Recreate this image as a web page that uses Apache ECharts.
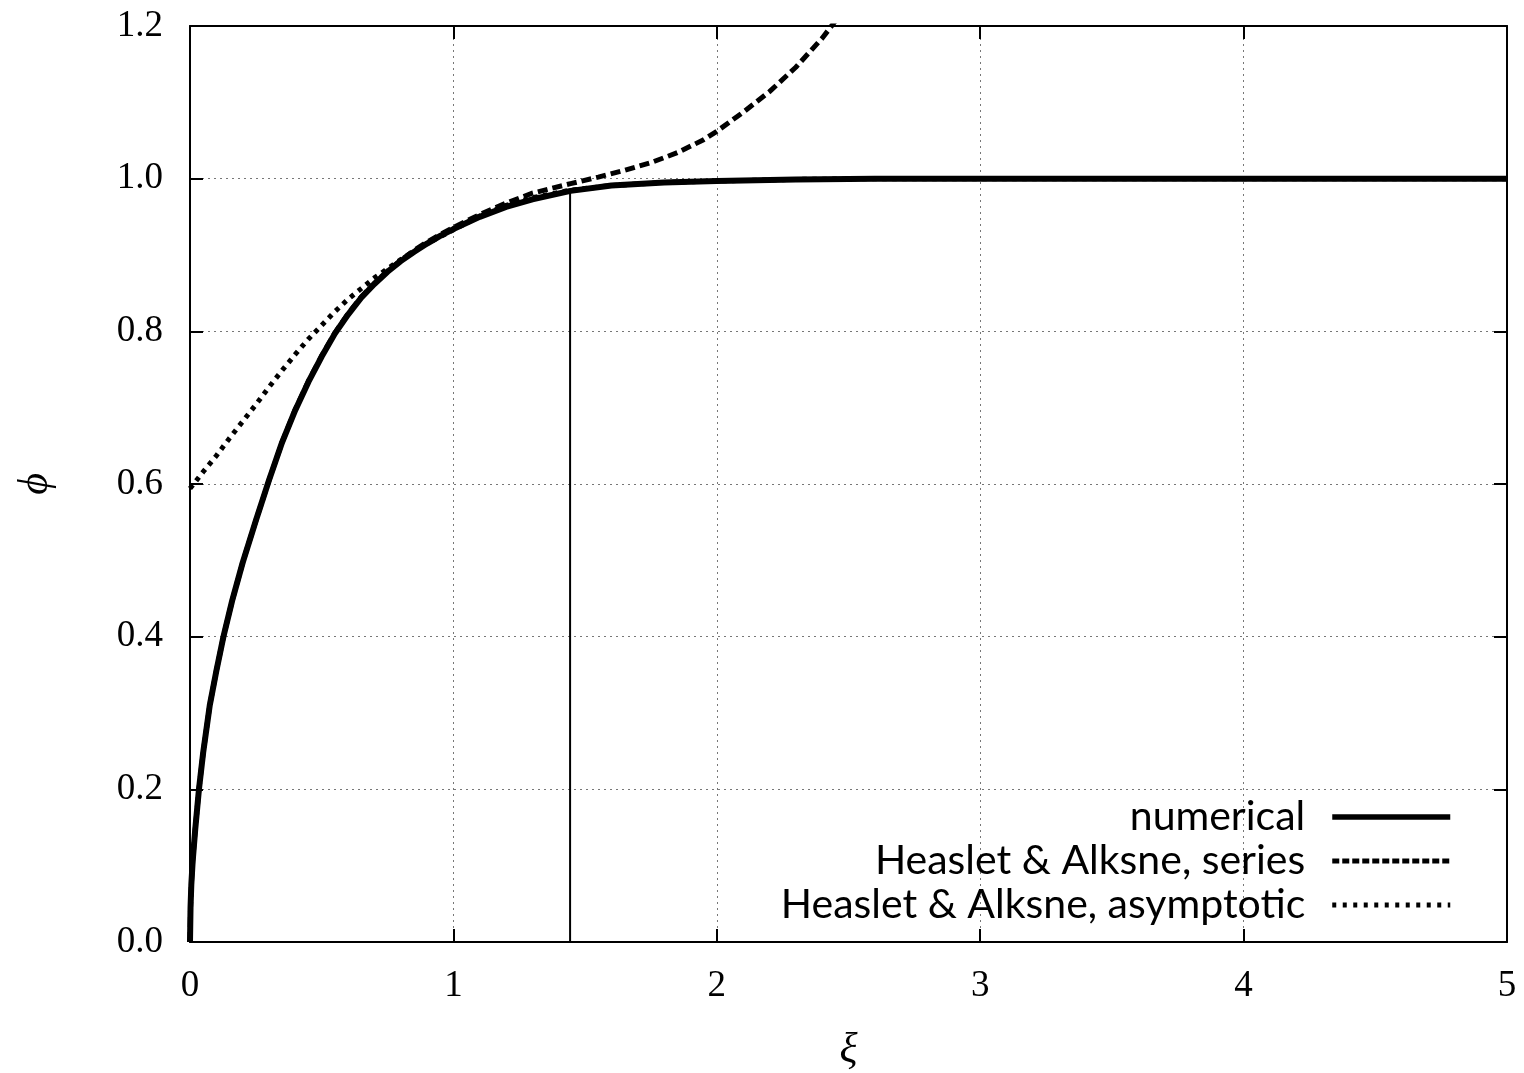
<!DOCTYPE html>
<html>
<head>
<meta charset="utf-8">
<script src="https://cdn.jsdelivr.net/npm/echarts@6/dist/echarts.min.js"></script>
<style>
html,body{margin:0;padding:0;background:#fff;}
#chart{width:1524px;height:1073px;}
</style>
</head>
<body>
<div id="chart"></div>
<script>
// ---- data ----
const seriesNames = ['numerical', 'Heaslet & Alksne, series', 'Heaslet & Alksne, asymptotic'];

const xiNumerical  = [0, 0.002, 0.005, 0.01, 0.02, 0.034, 0.05, 0.075, 0.1, 0.127, 0.16, 0.2, 0.25, 0.3, 0.35, 0.4, 0.45, 0.5, 0.55, 0.6, 0.65, 0.7, 0.75, 0.8, 0.85, 0.9, 0.95, 1.0, 1.1, 1.2, 1.3, 1.445, 1.6, 1.8, 2.0, 2.3, 2.6, 3, 4, 5];
const phiNumerical = [0, 0.045, 0.075, 0.105, 0.148, 0.2, 0.248, 0.31, 0.355, 0.4, 0.447, 0.497, 0.552, 0.605, 0.655, 0.697, 0.734, 0.767, 0.797, 0.822, 0.844, 0.862, 0.878, 0.892, 0.904, 0.915, 0.925, 0.934, 0.950, 0.963, 0.973, 0.984, 0.991, 0.995, 0.997, 0.999, 1, 1, 1, 1];

const xiSeries  = [0, 0.002, 0.005, 0.01, 0.02, 0.034, 0.05, 0.075, 0.1, 0.127, 0.16, 0.2, 0.25, 0.3, 0.35, 0.4, 0.45, 0.5, 0.55, 0.6, 0.65, 0.7, 0.75, 0.8, 0.85, 0.9, 0.95, 1.0, 1.1, 1.2, 1.3, 1.445, 1.55, 1.65, 1.75, 1.85, 1.95, 2.0, 2.1, 2.2, 2.3, 2.4, 2.5];
const phiSeries = [0, 0.045, 0.075, 0.105, 0.148, 0.2, 0.248, 0.31, 0.355, 0.4, 0.447, 0.497, 0.552, 0.605, 0.655, 0.698, 0.735, 0.768, 0.798, 0.823, 0.845, 0.863, 0.879, 0.893, 0.906, 0.917, 0.927, 0.936, 0.953, 0.968, 0.981, 0.9935, 1.002, 1.011, 1.021, 1.034, 1.051, 1.062, 1.087, 1.114, 1.146, 1.184, 1.229];

const xiAsymptotic  = [0, 0.05, 0.1, 0.15, 0.2, 0.25, 0.3, 0.35, 0.4, 0.45, 0.5, 0.55, 0.6, 0.65, 0.7, 0.75, 0.8, 0.85, 0.9, 0.95, 1.0, 1.1, 1.2, 1.3, 1.445, 1.6, 1.8, 2.0, 2.3, 2.6, 3, 4, 5];
const phiAsymptotic = [0.594, 0.616, 0.637, 0.66, 0.682, 0.704, 0.727, 0.749, 0.77, 0.79, 0.808, 0.826, 0.842, 0.856, 0.87, 0.882, 0.894, 0.905, 0.915, 0.924, 0.933, 0.951, 0.965, 0.975, 0.985, 0.991, 0.995, 0.997, 0.999, 1, 1, 1, 1];

const markerXi  = [1.443, 1.443];
const markerPhi = [0, 0.984];

const xTicks = [0, 1, 2, 3, 4, 5];
const yTicks = [0, 0.2, 0.4, 0.6, 0.8, 1.0, 1.2];
// --------------------------------------

const zip = (xs, ys) => xs.map((x, i) => [x, ys[i]]);

const serifFont = '"Liberation Serif", "DejaVu Serif", serif';
const sansFont = 'Lato, "Open Sans", sans-serif';

const chart = echarts.init(document.getElementById('chart'), null, {renderer: 'canvas'});

const gridLine = {show: true, lineStyle: {color: '#777', width: 1, type: [2, 4]}};
const tickStyle = {show: true, inside: true, length: 13, lineStyle: {color: '#000', width: 2}};
const axisLineStyle = {show: true, onZero: false, lineStyle: {color: '#000', width: 2}};

const option = {
  animation: false,
  backgroundColor: '#fff',
  grid: {left: 190, top: 26, right: 17, bottom: 131, containLabel: false, outerBoundsMode: 'none'},
  legend: {
    data: [
      {name: seriesNames[0], lineStyle: {width: 5.5, type: 'solid'}},
      {name: seriesNames[1], lineStyle: {width: 5, type: [7, 3], cap: 'butt'}},
      {name: seriesNames[2], lineStyle: {width: 5, type: [4, 6.5], cap: 'butt'}}
    ],
    itemStyle: {color: 'rgba(0,0,0,0)', opacity: 0, borderWidth: 0},
    orient: 'vertical',
    align: 'right',
    right: 66,
    top: 790,
    itemWidth: 118,
    itemHeight: 12,
    itemGap: 0,
    textStyle: {fontFamily: sansFont, fontSize: 41, color: '#000', lineHeight: 44, padding: [0, 22, 0, 0]},
    backgroundColor: 'transparent'
  },
  xAxis: [
    {
      type: 'value', min: xTicks[0], max: xTicks[xTicks.length - 1], interval: 1,
      position: 'bottom',
      name: 'ξ', nameLocation: 'middle', nameGap: 88,
      nameTextStyle: {fontFamily: serifFont, fontStyle: 'italic', fontSize: 42, color: '#000'},
      axisLine: axisLineStyle, axisTick: tickStyle,
      axisLabel: {margin: 26, fontFamily: serifFont, fontSize: 37, color: '#000', formatter: v => String(Math.round(v))},
      splitLine: gridLine
    },
    {
      type: 'value', min: xTicks[0], max: xTicks[xTicks.length - 1], interval: 1,
      position: 'top',
      axisLine: axisLineStyle, axisTick: tickStyle,
      axisLabel: {show: false}, splitLine: {show: false}
    }
  ],
  yAxis: [
    {
      type: 'value', min: yTicks[0], max: yTicks[yTicks.length - 1], interval: 0.2,
      position: 'left',
      name: 'ϕ', nameLocation: 'middle', nameGap: 133,
      nameTextStyle: {fontFamily: serifFont, fontStyle: 'italic', fontSize: 42, color: '#000'},
      axisLine: axisLineStyle, axisTick: tickStyle,
      axisLabel: {margin: 27, fontFamily: serifFont, fontSize: 37, color: '#000', formatter: v => v.toFixed(1)},
      splitLine: gridLine
    },
    {
      type: 'value', min: yTicks[0], max: yTicks[yTicks.length - 1], interval: 0.2,
      position: 'right',
      axisLine: axisLineStyle, axisTick: tickStyle,
      axisLabel: {show: false}, splitLine: {show: false}
    }
  ],
  series: [
    {
      name: 'marker', type: 'line', data: zip(markerXi, markerPhi),
      symbol: 'none', lineStyle: {color: '#000', width: 2}, z: 2, silent: true
    },
    {
      name: seriesNames[0], type: 'line', data: zip(xiNumerical, phiNumerical),
      symbol: 'none', smooth: false, clip: true,
      lineStyle: {color: '#000', width: 6, type: 'solid', join: 'round'}, itemStyle: {color: '#000'}, z: 3
    },
    {
      name: seriesNames[1], type: 'line', data: zip(xiSeries, phiSeries),
      symbol: 'none', smooth: false, clip: true,
      lineStyle: {color: '#000', width: 5, type: [10, 5], cap: 'butt'}, itemStyle: {color: '#000'}, z: 4
    },
    {
      name: seriesNames[2], type: 'line', data: zip(xiAsymptotic, phiAsymptotic),
      symbol: 'none', smooth: false, clip: true,
      lineStyle: {color: '#000', width: 5, type: [4.5, 5.5], cap: 'butt'}, itemStyle: {color: '#000'}, z: 5
    }
  ]
};

chart.setOption(option);
</script>
</body>
</html>
